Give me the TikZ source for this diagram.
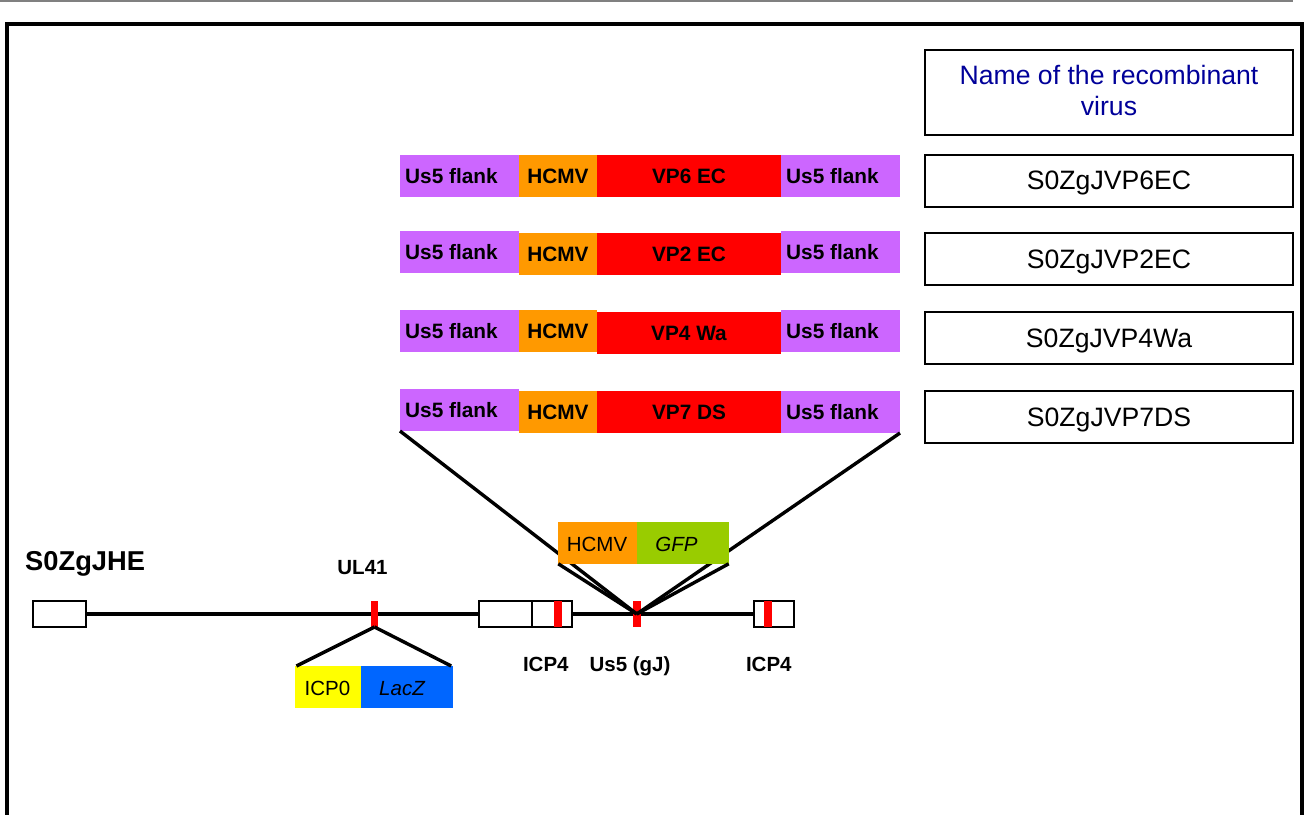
\documentclass[tikz,border=0pt]{standalone}
\usepackage{fontspec}
\setmainfont{Liberation Sans}
\definecolor{flank}{RGB}{204,102,255}
\definecolor{hcmv}{RGB}{255,153,0}
\definecolor{vpred}{RGB}{255,0,0}
\definecolor{gfp}{RGB}{153,204,0}
\definecolor{icpyel}{RGB}{255,255,0}
\definecolor{lacblue}{RGB}{0,102,255}
\definecolor{headblue}{RGB}{0,0,153}

% one inserted cassette: flank | promoter | gene | flank
% #1 prefix, #2 left flank top, #3 HCMV top, #4 gene top, #5 right flank top, #6 gene label
\newcommand\cassette[6]{%
  \node[seg,fill=flank,minimum width=119pt] (#1l) at (400,#2) {};
  \node[seg,fill=hcmv,minimum width=78pt] (#1h) at (519,#3) {};
  \node[seg,fill=vpred,minimum width=184pt] (#1v) at (597,#4) {};
  \node[seg,fill=flank,minimum width=119pt] (#1r) at (781,#5) {};
  \node[btxt,anchor=base west] at ([shift={(5pt,-28.3pt)}]#1l.north west) {Us5 flank};
  \node[btxt,anchor=base] at ([yshift=-28.3pt]#1h.north) {HCMV};
  \node[btxt,anchor=base] at ([yshift=-28.3pt]#1v.north) {#6};
  \node[btxt,anchor=base west] at ([shift={(5pt,-28.3pt)}]#1r.north west) {Us5 flank};
}

\begin{document}
\begin{tikzpicture}[x=1pt,y=-1pt,
  seg/.style={inner sep=0pt,outer sep=0pt,draw=none,anchor=north west,minimum height=42pt},
  btxt/.style={inner sep=0pt,font=\fontsize{20.8}{24}\selectfont\bfseries},
  ntxt/.style={inner sep=0pt,font=\fontsize{26.6}{31}\selectfont},
  gtxt/.style={inner sep=0pt,font=\fontsize{20.5}{24}\selectfont\bfseries},
  rtxt/.style={inner sep=0pt,font=\fontsize{20.5}{24}\selectfont},
  namebox/.style={draw,line width=2.2pt,inner sep=0pt,outer sep=0pt,anchor=north west,
                  minimum width=368pt,minimum height=52pt},
  gbox/.style={draw,fill=white,line width=2.2pt,inner sep=0pt,outer sep=0pt,anchor=north west,
               minimum height=26pt},
  redmark/.style={fill=red,inner sep=0pt,outer sep=0pt,anchor=north west,
               minimum width=7.6pt,minimum height=26pt},
  gline/.style={line width=3.6pt},
  conn/.style={line width=3.4pt},
  ins/.style={inner sep=0pt,outer sep=0pt,anchor=north west,minimum height=41.5pt}]

\useasboundingbox (0,0) rectangle (1304,814);

% page rule and frame
\draw[gray,line width=1.8pt] (0,1) -- (1293,1);
\draw[line width=4pt] (6.5,820) -- (6.5,24.3) -- (1302.3,24.3) -- (1302.3,820);

% name column
\node[namebox,minimum height=85pt] (hdr) at (925,50) {};
\node[ntxt,anchor=base,text=headblue] at ([yshift=-34pt]hdr.north) {Name of the recombinant};
\node[ntxt,anchor=base,text=headblue] at ([yshift=-65.3pt]hdr.north) {virus};

\node[namebox] (n1) at (925,155) {};
\node[namebox] (n2) at (925,233) {};
\node[namebox] (n3) at (925,312) {};
\node[namebox] (n4) at (925,391) {};
\node[ntxt,anchor=base] at ([yshift=-34.5pt]n1.north) {S0ZgJVP6EC};
\node[ntxt,anchor=base] at ([yshift=-35pt]n2.north) {S0ZgJVP2EC};
\node[ntxt,anchor=base] at ([yshift=-35.5pt]n3.north) {S0ZgJVP4Wa};
\node[ntxt,anchor=base] at ([yshift=-35.8pt]n4.north) {S0ZgJVP7DS};

% cassettes
\cassette{ra}{155}{155}{155}{155}{VP6 EC}
\cassette{rb}{231}{233}{233}{231}{VP2 EC}
\cassette{rc}{310}{310}{312}{310}{VP4 Wa}
\cassette{rd}{389}{391}{391}{391}{VP7 DS}

% genome map
\node[gbox,minimum width=53pt] (b1) at (33,601) {};
\node[gbox,minimum width=52.7pt] (b2) at (479.3,601) {};
\node[gbox,minimum width=39.7pt] (b3) at (532,601) {};
\node[gbox,minimum width=40pt] (b4) at (754.3,601) {};
\draw[gline] (b1.east) -- (b2.west);
\draw[gline] (b3.east) -- (b4.west);
\node[redmark] (ul41) at (370.7,601) {};
\node[redmark] (icpa) at (554.3,601) {};
\node[redmark] (us5) at (633,601) {};
\node[redmark] (icpb) at (764,601) {};

\node[inner sep=0pt,anchor=base west,font=\fontsize{27.3}{30}\selectfont\bfseries] (gname) at (25,570) {S0ZgJHE};
\node[gtxt,anchor=base] at (362.5,574) {UL41};
\node[gtxt,anchor=base] at (545.8,671.7) {ICP4};
\node[gtxt,anchor=base] at (630,671.7) {Us5 (gJ)};
\node[gtxt,anchor=base] at (768.8,671.7) {ICP4};

% insertion into Us5
\draw[conn] (rdl.south west) -- (us5.center);
\draw[conn] (rdr.south east) -- (us5.center);
\node[ins,fill=hcmv,minimum width=79pt] (gh) at (558.3,522.3) {};
\node[ins,fill=gfp,minimum width=91.4pt] (gg) at (637.3,522.3) {};
\node[rtxt,anchor=base] at (597,551) {HCMV};
\node[rtxt,anchor=base] at (676.5,551) {\itshape GFP};
\draw[conn] (gh.south west) -- (us5.center);
\draw[conn] (gg.south east) -- (us5.center);

% insertion into UL41
\node[ins,fill=icpyel,minimum width=66pt,minimum height=41.7pt] (icp0) at (295,666) {};
\node[ins,fill=lacblue,minimum width=91.7pt,minimum height=41.7pt] (lacz) at (361,666) {};
\node[rtxt,anchor=base] at (327.5,695) {ICP0};
\node[rtxt,anchor=base] at (402,695) {\itshape LacZ};
\draw[conn] (ul41.south) -- ([xshift=1.5pt]icp0.north west);
\draw[conn] (ul41.south) -- ([xshift=-1.5pt]lacz.north east);

\end{tikzpicture}
\end{document}
